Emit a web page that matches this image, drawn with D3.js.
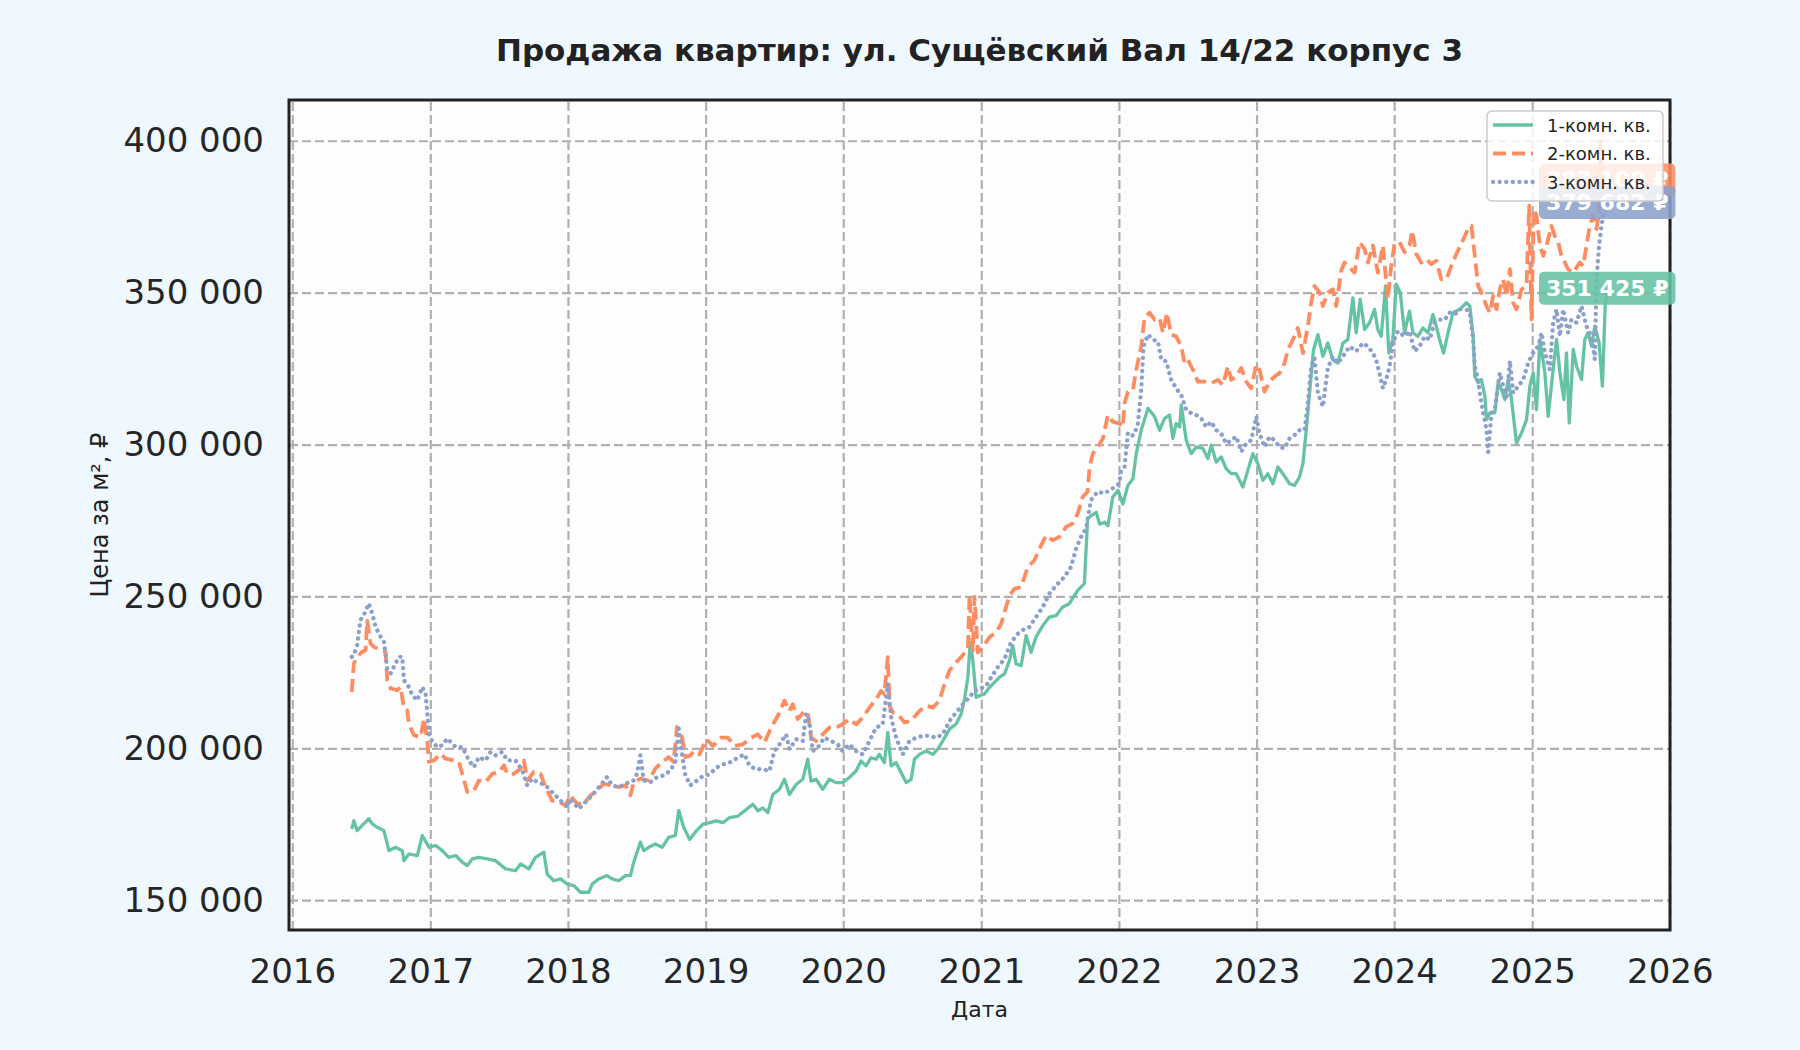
<!DOCTYPE html>
<html>
<head>
<meta charset="utf-8">
<script src="https://d3js.org/d3.v7.min.js"></script>
<style>
  body { margin: 0; background: #f0f8ff; }
  svg { display: block; font-family: 'DejaVu Sans', sans-serif; }
</style>
</head>
<body>
<svg id="chart" width="1800" height="1050"></svg>
<script>
const title = 'Продажа квартир: ул. Сущёвский Вал 14/22 корпус 3';
const seriesNames = ['1-комн. кв.', '2-комн. кв.', '3-комн. кв.'];
const colors = ['#66c2a5', '#fc8d62', '#8da0cb'];
const yearTicks = [2016, 2017, 2018, 2019, 2020, 2021, 2022, 2023, 2024, 2025, 2026];
const priceTicks = [150000, 200000, 250000, 300000, 350000, 400000];

// [decimal year, price per m2]
const room1 = [
  [2016.431,173500],[2016.446,176200],[2016.470,172900],[2016.507,174600],[2016.555,176800],[2016.579,175100],[2016.615,174000],[2016.664,172900],
  [2016.700,166300],[2016.748,167400],[2016.797,166300],[2016.809,163000],[2016.845,165200],[2016.906,164700],[2016.942,171300],[2016.990,167400],
  [2017.039,168000],[2017.087,166300],[2017.135,164100],[2017.184,164700],[2017.232,162500],[2017.269,161400],[2017.305,163600],[2017.353,164100],
  [2017.414,163600],[2017.474,163000],[2017.547,160300],[2017.619,159700],[2017.656,161900],[2017.716,160300],[2017.764,164100],[2017.825,165800],
  [2017.849,158600],[2017.897,156400],[2017.946,157000],[2017.994,155300],[2018.043,154800],[2018.091,152600],[2018.151,152600],[2018.176,155300],
  [2018.224,157000],[2018.284,158100],[2018.321,157000],[2018.369,156400],[2018.418,158100],[2018.454,158100],[2018.478,162500],[2018.526,169100],
  [2018.551,166300],[2018.587,167400],[2018.635,168500],[2018.684,167400],[2018.732,170700],[2018.780,171300],[2018.805,179500],[2018.841,174000],
  [2018.884,170000],[2018.932,172800],[2018.981,175000],[2019.029,175500],[2019.077,176100],[2019.126,175500],[2019.174,177200],[2019.235,177700],
  [2019.283,179400],[2019.343,181600],[2019.380,179400],[2019.416,180400],[2019.452,178800],[2019.488,184800],[2019.537,186500],[2019.573,189800],
  [2019.609,184800],[2019.658,188100],[2019.706,189800],[2019.742,196400],[2019.766,189200],[2019.803,189800],[2019.851,186500],[2019.899,189800],
  [2019.948,188700],[2019.996,188700],[2020.044,190400],[2020.093,192500],[2020.129,195800],[2020.165,194200],[2020.202,196900],[2020.238,196400],
  [2020.262,198000],[2020.298,195300],[2020.323,205200],[2020.347,194200],[2020.383,195300],[2020.419,192000],[2020.456,188700],[2020.492,189800],
  [2020.516,196400],[2020.552,198000],[2020.601,199100],[2020.649,198000],[2020.685,199700],[2020.721,202400],[2020.770,206300],[2020.818,208000],
  [2020.854,211300],[2020.879,216200],[2020.903,223400],[2020.920,234900],[2020.939,228900],[2020.963,216800],[2020.987,217300],[2021.024,217900],
  [2021.060,220100],[2021.096,221700],[2021.133,223400],[2021.169,224500],[2021.205,228900],[2021.229,233800],[2021.253,227800],[2021.290,227200],
  [2021.326,237100],[2021.362,231600],[2021.398,236600],[2021.447,240400],[2021.495,243200],[2021.544,243700],[2021.592,246500],[2021.640,247600],
  [2021.701,252000],[2021.749,254200],[2021.773,275600],[2021.799,276600],[2021.835,277700],[2021.860,273800],[2021.896,274400],[2021.920,273300],
  [2021.956,282700],[2021.993,284900],[2022.029,280400],[2022.065,286500],[2022.102,288700],[2022.126,297000],[2022.162,304700],[2022.211,311900],
  [2022.259,309200],[2022.295,304700],[2022.332,308600],[2022.368,309700],[2022.392,302000],[2022.416,306900],[2022.441,305800],[2022.453,313000],
  [2022.489,301400],[2022.525,297000],[2022.562,299200],[2022.610,298700],[2022.646,295400],[2022.671,299800],[2022.707,294200],[2022.743,295900],
  [2022.780,292000],[2022.816,290400],[2022.852,290400],[2022.901,286000],[2022.937,291500],[2022.973,297000],[2023.010,293700],[2023.046,288200],
  [2023.082,290400],[2023.119,287100],[2023.155,292600],[2023.191,290400],[2023.240,287100],[2023.276,286500],[2023.312,289300],[2023.337,293700],
  [2023.361,304700],[2023.385,316900],[2023.414,331200],[2023.446,336200],[2023.482,329000],[2023.518,333400],[2023.554,327900],[2023.591,326800],
  [2023.627,333400],[2023.663,334500],[2023.700,348300],[2023.724,336800],[2023.753,347800],[2023.785,337900],[2023.821,340100],[2023.857,344500],
  [2023.881,337900],[2023.906,335600],[2023.937,352200],[2023.961,330100],[2023.990,334500],[2024.015,352800],[2024.044,350000],[2024.075,336800],
  [2024.111,343900],[2024.136,336800],[2024.172,335600],[2024.208,338400],[2024.245,336800],[2024.281,342800],[2024.305,339000],[2024.329,334500],
  [2024.358,330100],[2024.390,336800],[2024.426,343400],[2024.475,344500],[2024.523,346700],[2024.548,345600],[2024.572,335700],[2024.584,322500],
  [2024.608,320300],[2024.632,321400],[2024.657,315900],[2024.669,308200],[2024.693,310400],[2024.729,310400],[2024.753,320300],[2024.777,318100],
  [2024.802,314800],[2024.826,321400],[2024.850,314800],[2024.886,300500],[2024.923,303800],[2024.959,308200],[2024.983,319200],[2025.007,323600],
  [2025.031,311500],[2025.056,334600],[2025.092,323600],[2025.116,309300],[2025.152,324700],[2025.177,334600],[2025.201,323600],[2025.230,314800],
  [2025.249,330200],[2025.269,307100],[2025.298,331300],[2025.322,325800],[2025.358,321400],[2025.382,334600],[2025.406,336800],[2025.431,332400],
  [2025.455,339000],[2025.486,333500],[2025.510,319200],[2025.530,345600],[2025.545,351425]
];

const room2 = [
  [2016.431,218600],[2016.446,227900],[2016.470,230100],[2016.507,231800],[2016.531,232300],[2016.543,242000],[2016.567,234500],[2016.591,233400],
  [2016.640,232300],[2016.676,231800],[2016.688,222400],[2016.712,219700],[2016.761,219100],[2016.785,220200],[2016.809,213100],[2016.833,212500],
  [2016.845,208100],[2016.881,204300],[2016.930,203700],[2016.954,209800],[2016.978,202600],[2016.990,195500],[2017.027,196000],[2017.075,198200],
  [2017.111,196600],[2017.172,196000],[2017.208,195500],[2017.232,191600],[2017.269,185600],[2017.317,186100],[2017.353,189400],[2017.402,188900],
  [2017.450,191600],[2017.498,192200],[2017.535,194400],[2017.559,191600],[2017.607,191600],[2017.656,193300],[2017.680,196000],[2017.704,189400],
  [2017.752,192200],[2017.801,191600],[2017.837,187200],[2017.885,182800],[2017.934,182300],[2017.982,181200],[2018.018,184500],[2018.067,181700],
  [2018.115,181700],[2018.164,184500],[2018.212,186100],[2018.260,188300],[2018.321,187800],[2018.369,187200],[2018.418,187800],[2018.454,184500],
  [2018.478,188900],[2018.526,190000],[2018.587,189400],[2018.635,193300],[2018.684,195500],[2018.732,197100],[2018.768,195500],[2018.792,207000],
  [2018.829,203700],[2018.853,197100],[2018.884,197500],[2018.920,199100],[2018.956,198000],[2019.005,203000],[2019.053,200800],[2019.114,203500],
  [2019.162,203500],[2019.210,200800],[2019.271,201300],[2019.331,203500],[2019.380,204600],[2019.428,201900],[2019.476,206800],[2019.525,210700],
  [2019.573,215700],[2019.609,212300],[2019.633,214500],[2019.670,209600],[2019.718,212300],[2019.742,211800],[2019.766,203500],[2019.803,202400],
  [2019.851,204600],[2019.899,206800],[2019.948,206800],[2019.996,207900],[2020.044,209600],[2020.093,207900],[2020.141,210100],[2020.190,213400],
  [2020.238,216200],[2020.274,218900],[2020.298,217800],[2020.323,230000],[2020.335,214000],[2020.359,211800],[2020.407,210700],[2020.443,208500],
  [2020.492,209000],[2020.552,212300],[2020.601,214000],[2020.649,213400],[2020.697,215700],[2020.734,221200],[2020.770,225600],[2020.818,228300],
  [2020.854,230000],[2020.903,232700],[2020.915,250300],[2020.939,232200],[2020.951,249800],[2020.975,231600],[2021.012,233300],[2021.060,236600],
  [2021.108,238200],[2021.145,241000],[2021.169,244800],[2021.205,250300],[2021.241,252500],[2021.290,253100],[2021.338,259700],[2021.386,261900],
  [2021.423,265700],[2021.471,270100],[2021.519,268500],[2021.568,269600],[2021.616,272900],[2021.664,274000],[2021.701,277300],[2021.737,282800],
  [2021.773,284500],[2021.787,292600],[2021.811,297000],[2021.847,299200],[2021.884,302000],[2021.920,309700],[2021.956,307500],[2022.005,306900],
  [2022.029,305800],[2022.041,313600],[2022.065,317400],[2022.102,318000],[2022.126,324600],[2022.162,332300],[2022.186,341700],[2022.223,343400],
  [2022.259,341100],[2022.295,341700],[2022.320,336800],[2022.349,343400],[2022.380,336200],[2022.416,335600],[2022.453,332300],[2022.477,326800],
  [2022.501,327900],[2022.538,324600],[2022.574,320700],[2022.622,320700],[2022.671,320200],[2022.719,321300],[2022.755,319600],[2022.792,325700],
  [2022.816,321300],[2022.852,322400],[2022.889,325200],[2022.925,320700],[2022.961,318500],[2022.998,326300],[2023.022,324600],[2023.058,317400],
  [2023.094,320700],[2023.131,322400],[2023.167,323500],[2023.203,326800],[2023.228,331200],[2023.264,334500],[2023.300,338400],[2023.337,330100],
  [2023.373,339000],[2023.397,346700],[2023.421,352200],[2023.458,350000],[2023.482,345600],[2023.518,350000],[2023.554,351100],[2023.579,345600],
  [2023.615,357200],[2023.639,359900],[2023.676,358200],[2023.712,356600],[2023.748,366600],[2023.785,364400],[2023.809,359900],[2023.845,365500],
  [2023.881,356600],[2023.918,365500],[2023.954,347800],[2023.978,358800],[2024.002,366100],[2024.039,366600],[2024.075,363300],[2024.111,365500],
  [2024.131,370400],[2024.160,362700],[2024.196,359900],[2024.232,361000],[2024.269,359400],[2024.305,360500],[2024.341,354400],[2024.378,354400],
  [2024.414,358800],[2024.450,362700],[2024.487,366100],[2024.535,371000],[2024.560,372000],[2024.584,362100],[2024.608,352200],[2024.632,350000],
  [2024.669,345600],[2024.693,343400],[2024.717,348900],[2024.741,344500],[2024.765,351100],[2024.790,354400],[2024.814,348900],[2024.838,357700],
  [2024.862,346700],[2024.886,344500],[2024.923,351100],[2024.959,352200],[2024.978,378600],[2024.995,341200],[2025.012,377500],[2025.031,375300],
  [2025.056,365400],[2025.080,362100],[2025.104,365400],[2025.140,372000],[2025.164,368700],[2025.189,366500],[2025.213,362100],[2025.237,359900],
  [2025.261,357700],[2025.298,356600],[2025.346,359900],[2025.370,358800],[2025.394,365400],[2025.418,372000],[2025.443,375300],[2025.467,370900],
  [2025.486,376400],[2025.495,401000],[2025.510,380000],[2025.545,387100]
];

const room3 = [
  [2016.431,230100],[2016.446,230700],[2016.470,234000],[2016.494,242200],[2016.519,243900],[2016.555,247700],[2016.579,244400],[2016.603,240000],
  [2016.640,236700],[2016.664,235100],[2016.688,226300],[2016.712,224600],[2016.736,226800],[2016.773,230100],[2016.797,230100],[2016.809,222400],
  [2016.845,220200],[2016.869,217500],[2016.906,215800],[2016.942,220200],[2016.966,218000],[2016.990,204800],[2017.015,202100],[2017.051,200400],
  [2017.087,201000],[2017.123,203200],[2017.184,200400],[2017.232,200400],[2017.281,196000],[2017.317,193800],[2017.353,197100],[2017.402,196000],
  [2017.438,198800],[2017.474,197700],[2017.522,198800],[2017.559,196000],[2017.619,196000],[2017.668,192700],[2017.704,187800],[2017.740,190000],
  [2017.776,188900],[2017.813,188300],[2017.849,187200],[2017.897,185000],[2017.946,182800],[2017.994,180600],[2018.018,183400],[2018.079,180100],
  [2018.127,182300],[2018.176,184500],[2018.236,187800],[2018.284,190500],[2018.321,187800],[2018.369,187200],[2018.418,188300],[2018.478,189400],
  [2018.502,191600],[2018.526,197700],[2018.551,189400],[2018.599,188900],[2018.647,190500],[2018.696,191100],[2018.744,192700],[2018.780,195500],
  [2018.805,206500],[2018.829,198200],[2018.853,191100],[2018.889,187800],[2018.932,189200],[2018.981,190900],[2019.029,191400],[2019.077,193600],
  [2019.126,194700],[2019.174,195300],[2019.235,196900],[2019.283,198000],[2019.319,194200],[2019.368,193100],[2019.416,193100],[2019.464,192500],
  [2019.500,199100],[2019.537,201300],[2019.585,204600],[2019.609,199700],[2019.658,203000],[2019.706,202400],[2019.730,211300],[2019.754,209000],
  [2019.779,199100],[2019.815,200200],[2019.863,203500],[2019.912,202400],[2019.960,201300],[2019.996,199100],[2020.044,201300],[2020.093,199100],
  [2020.141,198000],[2020.190,202400],[2020.238,206800],[2020.286,207900],[2020.323,221200],[2020.347,210100],[2020.383,203500],[2020.431,198000],
  [2020.480,202400],[2020.528,203500],[2020.576,204100],[2020.625,204100],[2020.673,203500],[2020.721,204600],[2020.770,209000],[2020.818,211800],
  [2020.867,214500],[2020.915,216800],[2020.951,219000],[2020.987,219500],[2021.036,220600],[2021.072,223400],[2021.120,226700],[2021.169,229400],
  [2021.217,234900],[2021.265,237700],[2021.314,239300],[2021.350,239900],[2021.398,243200],[2021.447,246500],[2021.495,250900],[2021.544,253600],
  [2021.604,256400],[2021.652,259700],[2021.689,265700],[2021.725,269600],[2021.761,272300],[2021.797,281700],[2021.846,284500],[2021.894,283900],
  [2021.955,285600],[2022.003,287200],[2022.017,291500],[2022.041,292600],[2022.065,303600],[2022.090,302600],[2022.114,303600],[2022.138,306900],
  [2022.162,318000],[2022.179,332300],[2022.211,336200],[2022.247,334500],[2022.283,334000],[2022.308,327900],[2022.344,327400],[2022.380,321300],
  [2022.416,318500],[2022.453,316300],[2022.489,311400],[2022.525,310300],[2022.562,309700],[2022.598,308600],[2022.634,305800],[2022.671,307500],
  [2022.707,304700],[2022.743,303600],[2022.780,300300],[2022.816,301400],[2022.852,302600],[2022.889,297600],[2022.925,300300],[2022.961,301400],
  [2022.998,309200],[2023.022,303600],[2023.058,299200],[2023.094,302600],[2023.131,301400],[2023.167,299200],[2023.203,298700],[2023.240,302000],
  [2023.276,303100],[2023.312,304700],[2023.349,304700],[2023.373,313600],[2023.397,325700],[2023.421,328500],[2023.446,316900],[2023.482,312500],
  [2023.494,316900],[2023.518,325200],[2023.554,329000],[2023.591,326800],[2023.627,329000],[2023.676,332300],[2023.724,330700],[2023.772,333400],
  [2023.809,332300],[2023.845,330100],[2023.869,327900],[2023.893,323500],[2023.918,318500],[2023.942,321300],[2023.966,325700],[2023.990,333400],
  [2024.027,337300],[2024.075,335600],[2024.111,337300],[2024.148,330700],[2024.184,332300],[2024.220,335600],[2024.257,334500],[2024.293,340100],
  [2024.329,341100],[2024.366,341100],[2024.402,343400],[2024.438,342800],[2024.475,344500],[2024.523,344500],[2024.548,343400],[2024.572,334600],
  [2024.584,325800],[2024.608,321400],[2024.620,317000],[2024.644,310400],[2024.669,304900],[2024.681,297500],[2024.705,310400],[2024.729,311500],
  [2024.765,323600],[2024.790,319200],[2024.814,314800],[2024.838,327500],[2024.862,317000],[2024.898,319200],[2024.935,321400],[2024.971,326900],
  [2025.007,330200],[2025.044,332400],[2025.068,336800],[2025.092,330200],[2025.128,324700],[2025.152,340100],[2025.177,344500],[2025.201,335700],
  [2025.225,344500],[2025.261,336800],[2025.285,341200],[2025.322,340100],[2025.358,345600],[2025.394,339000],[2025.418,336800],[2025.443,332400],
  [2025.455,328000],[2025.467,354400],[2025.486,365400],[2025.503,372000],[2025.520,376400],[2025.545,379682]
];

// decimal year -> Date
const toDate = (yv) => {
  const yr = Math.floor(yv);
  const start = new Date(yr, 0, 1), end = new Date(yr + 1, 0, 1);
  return new Date(+start + (yv - yr) * (end - start));
};

const series = [room1, room2, room3].map((rows, i) => ({
  name: seriesNames[i],
  color: colors[i],
  values: rows.map(([t, v]) => ({ date: toDate(t), value: v }))
}));

const svg = d3.select('#chart');
const margin = { top: 100, right: 130, bottom: 120, left: 289 };
const width = 1800, height = 1050;
const plotW = width - margin.left - margin.right;
const plotH = height - margin.top - margin.bottom;

// matplotlib-style 5% padding around data
const all = series.flatMap((s) => s.values);
const tExt = d3.extent(all, (d) => +d.date);
const vExt = d3.extent(all, (d) => d.value);
const tPad = (tExt[1] - tExt[0]) * 0.05;
const vPad = (vExt[1] - vExt[0]) * 0.05;

const x = d3.scaleTime()
  .domain([new Date(tExt[0] - tPad), new Date(tExt[1] + tPad)])
  .range([0, plotW]);
const y = d3.scaleLinear()
  .domain([vExt[0] - vPad, vExt[1] + vPad])
  .range([plotH, 0]);

const fmt = (v) => d3.format(',')(v).replace(/,/g, ' ');
const yearDates = yearTicks.map((yr) => new Date(yr, 0, 1));

svg.append('text')
  .attr('x', margin.left + plotW / 2)
  .attr('y', 50)
  .attr('text-anchor', 'middle')
  .attr('dominant-baseline', 'central')
  .attr('font-size', 31)
  .attr('font-weight', 'bold')
  .attr('fill', '#222')
  .text(title);

const g = svg.append('g').attr('transform', `translate(${margin.left},${margin.top})`);

g.append('rect').attr('width', plotW).attr('height', plotH).attr('fill', '#fdfdfd');

g.append('defs').append('clipPath').attr('id', 'plot-clip')
  .append('rect').attr('width', plotW).attr('height', plotH);

// grid
const gridX = g.append('g')
  .attr('transform', `translate(0,${plotH})`)
  .call(d3.axisBottom(x).tickValues(yearDates).tickSize(-plotH).tickFormat(''));
const gridY = g.append('g')
  .call(d3.axisLeft(y).tickValues(priceTicks).tickSize(-plotW).tickFormat(''));
[gridX, gridY].forEach((ax) => {
  ax.select('.domain').remove();
  ax.selectAll('line')
    .attr('stroke', '#b0b0b0')
    .attr('stroke-width', 2.2)
    .attr('stroke-dasharray', '9,4');
});

// lines
const line = d3.line().x((d) => x(d.date)).y((d) => y(d.value));
const dashes = [null, '13,6', '0.1,6.5'];
const widths = [3.3, 3.8, 4.3];

const lines = g.append('g').attr('clip-path', 'url(#plot-clip)');
series.forEach((s, i) => {
  lines.append('path')
    .datum(s.values)
    .attr('fill', 'none')
    .attr('stroke', s.color)
    .attr('stroke-width', widths[i])
    .attr('stroke-linejoin', 'round')
    .attr('stroke-linecap', i === 2 ? 'round' : 'butt')
    .attr('stroke-dasharray', dashes[i])
    .attr('d', line);
});

// frame
g.append('rect')
  .attr('width', plotW).attr('height', plotH)
  .attr('fill', 'none').attr('stroke', '#222').attr('stroke-width', 3);

// axes
const xAxis = g.append('g')
  .attr('transform', `translate(0,${plotH})`)
  .call(d3.axisBottom(x).tickValues(yearDates).tickSize(0).tickPadding(29).tickFormat(d3.timeFormat('%Y')));
const yAxis = g.append('g')
  .call(d3.axisLeft(y).tickValues(priceTicks).tickSize(0).tickPadding(25).tickFormat(fmt));
[xAxis, yAxis].forEach((ax) => {
  ax.select('.domain').remove();
  ax.selectAll('text')
    .attr('font-size', 34)
    .attr('font-family', 'DejaVu Sans, sans-serif')
    .attr('fill', '#262626');
});

svg.append('text')
  .attr('x', margin.left + plotW / 2)
  .attr('y', 1009)
  .attr('text-anchor', 'middle')
  .attr('dominant-baseline', 'central')
  .attr('font-size', 22)
  .attr('fill', '#222')
  .text('Дата');

svg.append('text')
  .attr('transform', `translate(100,${margin.top + plotH / 2}) rotate(-90)`)
  .attr('text-anchor', 'middle')
  .attr('dominant-baseline', 'central')
  .attr('font-size', 24)
  .attr('fill', '#222')
  .text('Цена за м², ₽');

// end-of-series value tags
series.forEach((s) => {
  const last = s.values[s.values.length - 1];
  const tag = g.append('g').attr('transform', `translate(${x(last.date)},${y(last.value)})`);
  const box = tag.append('rect');
  const txt = tag.append('text')
    .attr('text-anchor', 'middle')
    .attr('dominant-baseline', 'central')
    .attr('font-size', 22)
    .attr('font-weight', 'bold')
    .attr('fill', 'white')
    .text(`${fmt(last.value)} ₽`);
  const bb = txt.node().getBBox();
  box.attr('x', bb.x - 7).attr('y', bb.y - 4)
    .attr('width', bb.width + 14).attr('height', bb.height + 8)
    .attr('rx', 5)
    .attr('fill', s.color)
    .attr('fill-opacity', 0.88);
});

// legend
const legend = g.append('g').attr('transform', `translate(${plotW - 183},${11})`);
legend.append('rect')
  .attr('width', 176).attr('height', 90).attr('rx', 5)
  .attr('fill', 'white').attr('fill-opacity', 0.82)
  .attr('stroke', '#cccccc').attr('stroke-width', 1.5);
series.forEach((s, i) => {
  const yy = 14 + i * 28.5;
  legend.append('line')
    .attr('x1', 6).attr('x2', 46).attr('y1', yy).attr('y2', yy)
    .attr('stroke', s.color)
    .attr('stroke-width', widths[i])
    .attr('stroke-linecap', i === 2 ? 'round' : 'butt')
    .attr('stroke-dasharray', dashes[i]);
  legend.append('text')
    .attr('x', 60).attr('y', yy)
    .attr('dominant-baseline', 'central')
    .attr('font-size', 18)
    .attr('fill', '#262626')
    .text(s.name);
});
</script>
</body>
</html>
